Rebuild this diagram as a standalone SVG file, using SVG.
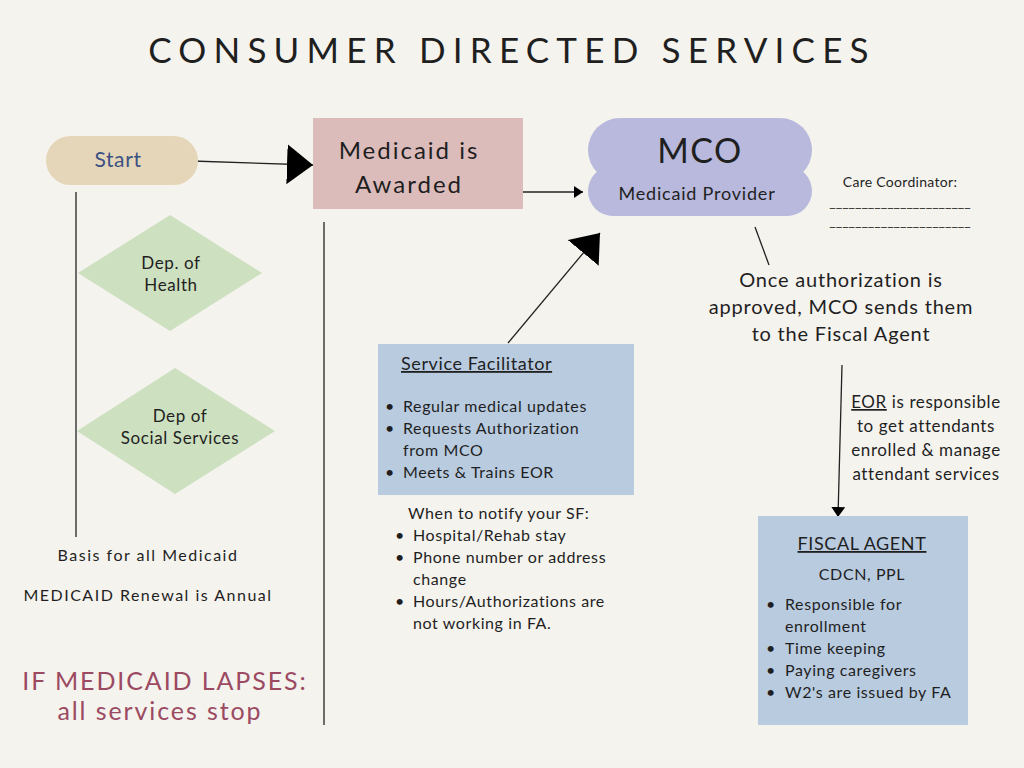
<svg xmlns="http://www.w3.org/2000/svg" width="1024" height="768" viewBox="0 0 1024 768">
<defs>
<style>
text{font-family:Lato,"Open Sans","DejaVu Sans",sans-serif;fill:#1f1f1f}
.c{text-anchor:middle}
.b16{font-size:16px;letter-spacing:0.6px}
.w16{font-size:16px;letter-spacing:1.5px}
.t17{font-size:17px;letter-spacing:0.6px}
.t20{font-size:20px;letter-spacing:0.8px}
.red{font-size:25px;fill:#9b4a62;letter-spacing:1.9px}
.ln{stroke:#222;stroke-width:1.3;fill:none}
.u{text-decoration:underline}
</style>
<marker id="big" markerWidth="28" markerHeight="40" refX="26" refY="20" orient="auto" markerUnits="userSpaceOnUse"><path d="M0,0 L26,20 L0,40 Z" fill="#000"/></marker>
<marker id="sm" markerWidth="10" markerHeight="12" refX="9" refY="6" orient="auto" markerUnits="userSpaceOnUse"><path d="M0,0 L9,6 L0,12 Z" fill="#000"/></marker>
<marker id="mid" markerWidth="12" markerHeight="14" refX="10" refY="7" orient="auto" markerUnits="userSpaceOnUse"><path d="M0,0 L10,7 L0,14 Z" fill="#000"/></marker>
</defs>
<rect width="1024" height="768" fill="#f5f3ee"/>
<text x="512" y="63" class="c" style="font-size:35px;letter-spacing:7.2px">CONSUMER DIRECTED SERVICES</text>

<g id="connectors">
<line class="ln" x1="192" y1="161" x2="313" y2="165" marker-end="url(#big)"/>
<line class="ln" x1="512" y1="192" x2="583" y2="192" marker-end="url(#sm)"/>
<line class="ln" x1="508" y1="343" x2="600" y2="233" marker-end="url(#big)"/>
<line class="ln" x1="755" y1="227" x2="769" y2="265"/>
<line class="ln" x1="842" y1="365" x2="838" y2="517" marker-end="url(#mid)"/>
<line class="ln" x1="76" y1="192" x2="76" y2="537"/>
<line class="ln" x1="324" y1="222" x2="324" y2="725"/>
</g>

<g id="start">
<rect x="46" y="136" width="152" height="49" rx="24.5" fill="#e6d6b9"/>
<text x="118" y="167" class="c" style="font-size:21px;fill:#3b5282;letter-spacing:0.6px">Start</text>
</g>

<g id="medicaid">
<rect x="313" y="118" width="210" height="91" fill="#dcbcbb"/>
<text x="409" y="159" class="c" style="font-size:24px;letter-spacing:2px">Medicaid is</text>
<text x="409" y="193" class="c" style="font-size:24px;letter-spacing:2px">Awarded</text>
</g>

<g id="mco">
<rect x="588" y="118" width="224" height="64" rx="32" fill="#b8b9dc"/>
<rect x="588" y="166" width="224" height="50" rx="25" fill="#b8b9dc"/>
<rect x="600" y="160" width="200" height="20" fill="#b8b9dc"/>
<text x="700" y="163" class="c" style="font-size:34px;letter-spacing:1.5px">MCO</text>
<text x="697" y="200" class="c" style="font-size:18px;letter-spacing:0.8px">Medicaid Provider</text>
</g>

<g id="care-coordinator">
<text x="900" y="187" class="c" style="font-size:14px;letter-spacing:0.3px">Care Coordinator:</text>
<text x="900" y="207" class="c" style="font-size:14px">______________________</text>
<text x="900" y="226" class="c" style="font-size:14px">______________________</text>
</g>

<g id="authorization-note">
<text x="841" y="287" class="c t20">Once authorization is</text>
<text x="841" y="314" class="c t20">approved, MCO sends them</text>
<text x="841" y="341" class="c t20">to the Fiscal Agent</text>
</g>

<g id="eor-note">
<text x="926" y="408" class="c t17"><tspan class="u">EOR</tspan> is responsible</text>
<text x="926" y="432" class="c t17">to get attendants</text>
<text x="926" y="456" class="c t17">enrolled &amp; manage</text>
<text x="926" y="480" class="c t17">attendant services</text>
</g>

<g id="fiscal-agent">
<rect x="758" y="516" width="210" height="209" fill="#b9cbdf"/>
<text x="862" y="550" class="c u" style="font-size:18px;letter-spacing:0.6px">FISCAL AGENT</text>
<text x="862" y="580" class="c b16">CDCN, PPL</text>
<g class="b16">
<text x="766" y="610">•</text><text x="785" y="610">Responsible for</text>
<text x="785" y="632">enrollment</text>
<text x="766" y="654">•</text><text x="785" y="654">Time keeping</text>
<text x="766" y="676">•</text><text x="785" y="676">Paying caregivers</text>
<text x="766" y="698">•</text><text x="785" y="698">W2's are issued by FA</text>
</g>
</g>

<g id="service-facilitator">
<rect x="378" y="344" width="256" height="151" fill="#b9cbdf"/>
<text x="401" y="370" class="u" style="font-size:18px;letter-spacing:0.6px">Service Facilitator</text>
<g class="b16">
<text x="385" y="412">•</text><text x="403" y="412">Regular medical updates</text>
<text x="385" y="434">•</text><text x="403" y="434">Requests Authorization</text>
<text x="403" y="456">from MCO</text>
<text x="385" y="478">•</text><text x="403" y="478">Meets &amp; Trains EOR</text>
</g>
</g>

<g id="notify-sf">
<g class="b16">
<text x="408" y="519">When to notify your SF:</text>
<text x="395" y="541">•</text><text x="413" y="541">Hospital/Rehab stay</text>
<text x="395" y="563">•</text><text x="413" y="563">Phone number or address</text>
<text x="413" y="585">change</text>
<text x="395" y="607">•</text><text x="413" y="607">Hours/Authorizations are</text>
<text x="413" y="629">not working in FA.</text>
</g>
</g>

<g id="dep-health">
<polygon points="170,215 262,273 170,331 78,273" fill="#cde0c0"/>
<text x="171" y="269" class="c t17">Dep. of</text>
<text x="171" y="291" class="c t17">Health</text>
</g>

<g id="dep-social">
<polygon points="175,368 275,431 175,494 77,431" fill="#cde0c0"/>
<text x="180" y="422" class="c t17">Dep of</text>
<text x="180" y="444" class="c t17">Social Services</text>
</g>

<g id="left-notes">
<text x="148" y="561" class="c w16">Basis for all Medicaid</text>
<text x="148" y="601" class="c w16">MEDICAID Renewal is Annual</text>
<text x="165" y="690" class="c red">IF MEDICAID LAPSES:</text>
<text x="160" y="720" class="c red">all services stop</text>
</g>
</svg>
